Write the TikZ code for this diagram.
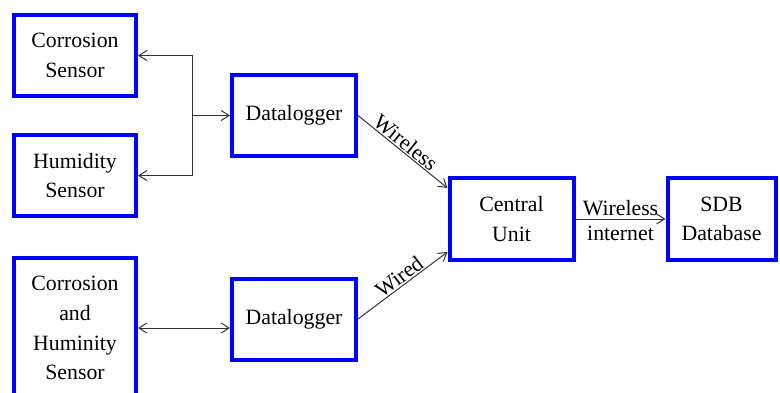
\documentclass[tikz,border=0pt]{standalone}
\usepackage{fontspec}
\setmainfont{Liberation Serif}
\usetikzlibrary{arrows.meta,positioning,calc}

\begin{document}
\begin{tikzpicture}[
  x=0.5pt, y=-0.5pt,
  font=\fontsize{10.9}{14.8}\selectfont,
  blk/.style={draw=blue,line width=2pt,fill=white,align=center,inner sep=2pt},
  arr/.style={-{Straight Barb[length=4pt,width=5pt]},black!80,line width=0.5pt},
  darr/.style={{Straight Barb[length=4pt,width=5pt]}-{Straight Barb[length=4pt,width=5pt]},black!80,line width=0.5pt},
  lab/.style={inner sep=0.5pt,text=black}
]
\useasboundingbox (0,0) rectangle (780,392);

% sensors
\node[blk,minimum width=61pt,minimum height=40.5pt] (cs)  at (75,55.5)  {Corrosion\\Sensor};
\node[blk,minimum width=61pt,minimum height=40.5pt] (hs)  at (75,175.5) {Humidity\\Sensor};
\node[blk,minimum width=61pt,minimum height=70pt,text depth=0pt] (chs) at (75,328) {Corrosion\\and\\Huminity\\Sensor};

% loggers
\node[blk,minimum width=62pt,minimum height=40.5pt] (dl1) at (294,115.5) {Datalogger};
\node[blk,minimum width=62pt,minimum height=40.5pt] (dl2) at (294,319)   {Datalogger};

% central unit and database
\node[blk,minimum width=62pt,minimum height=41pt] (cu)  at (511.5,219) {Central\\Unit};
\node[blk,minimum width=54pt,minimum height=41pt] (sdb) at (721.5,219) {SDB\\Database};

% sensor links
\coordinate (jn) at (192,115.5);
\draw[arr] (jn) -- (dl1.west);
\draw[arr] (jn) |- (cs.east);
\draw[arr] (jn) |- (hs.east);
\draw[darr] (chs.east) -- (chs.east -| dl2.west);

% links to central unit
\draw[arr] (dl1.east) -- ([yshift=15.5pt]cu.west)
  node[lab,pos=0.47,above,sloped] {Wireless};
\draw[arr] (dl2.east) -- ([yshift=-16.5pt]cu.west)
  node[lab,pos=0.52,above,sloped] {Wired};
\draw[arr] (cu.east) -- (sdb.west)
  node[lab,midway,above=1pt] {Wireless}
  node[lab,midway,below=3pt] {internet};
\end{tikzpicture}
\end{document}
